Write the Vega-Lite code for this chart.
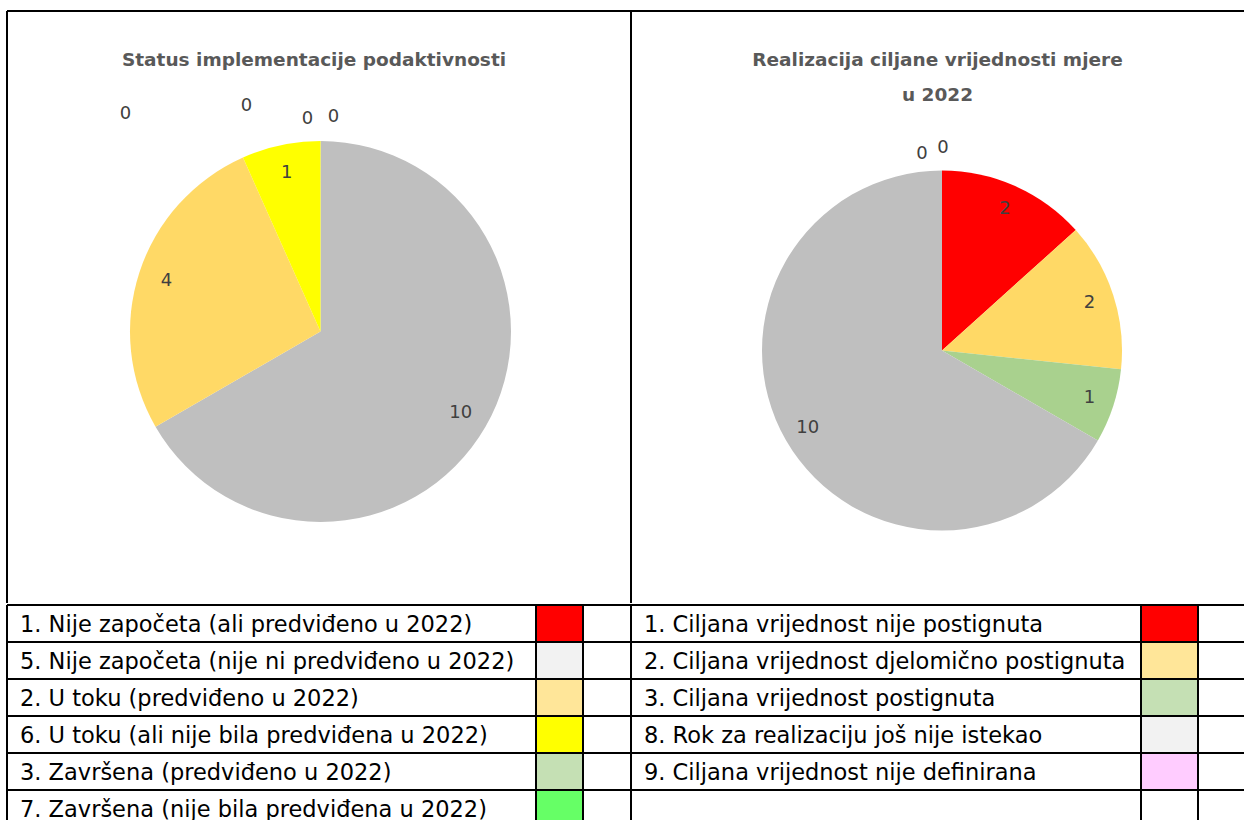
{
  "$schema": "https://vega.github.io/schema/vega-lite/v6.json",
  "padding": {"left": 6, "top": 10, "right": 0, "bottom": 0},
  "background": "white",
  "spacing": 0,
  "resolve": {"scale": {"color": "independent"}},
  "config": {
    "view": {"stroke": null},
    "font": "DejaVu Sans",
    "text": {"font": "DejaVu Sans"},
    "title": {"font": "DejaVu Sans"}
  },
  "datasets": {
    "leftPie": [
      {"kategorija": "4. Ostalo", "broj": 10, "red": 1},
      {"kategorija": "2. U toku (predviđeno u 2022)", "broj": 4, "red": 2},
      {"kategorija": "6. U toku (ali nije bila predviđena u 2022)", "broj": 1, "red": 3},
      {"kategorija": "1. Nije započeta (ali predviđeno u 2022)", "broj": 0, "red": 4},
      {"kategorija": "5. Nije započeta (nije ni predviđeno u 2022)", "broj": 0, "red": 5},
      {"kategorija": "3. Završena (predviđeno u 2022)", "broj": 0, "red": 6},
      {"kategorija": "7. Završena (nije bila predviđena u 2022)", "broj": 0, "red": 7}
    ],
    "rightPie": [
      {"kategorija": "1. Ciljana vrijednost nije postignuta", "broj": 2, "red": 1},
      {"kategorija": "2. Ciljana vrijednost djelomično postignuta", "broj": 2, "red": 2},
      {"kategorija": "3. Ciljana vrijednost postignuta", "broj": 1, "red": 3},
      {"kategorija": "8. Rok za realizaciju još nije istekao", "broj": 10, "red": 4},
      {"kategorija": "9. Ciljana vrijednost nije definirana", "broj": 0, "red": 5},
      {"kategorija": "Ostalo", "broj": 0, "red": 6}
    ],
    "leftLegend": [
      {"row": 1, "label": "1. Nije započeta (ali predviđeno u 2022)"},
      {"row": 2, "label": "5. Nije započeta (nije ni predviđeno u 2022)"},
      {"row": 3, "label": "2. U toku (predviđeno u 2022)"},
      {"row": 4, "label": "6. U toku (ali nije bila predviđena u 2022)"},
      {"row": 5, "label": "3. Završena (predviđeno u 2022)"},
      {"row": 6, "label": "7. Završena (nije bila predviđena u 2022)"}
    ],
    "rightLegend": [
      {"row": 1, "label": "1. Ciljana vrijednost nije postignuta"},
      {"row": 2, "label": "2. Ciljana vrijednost djelomično postignuta"},
      {"row": 3, "label": "3. Ciljana vrijednost postignuta"},
      {"row": 4, "label": "8. Rok za realizaciju još nije istekao"},
      {"row": 5, "label": "9. Ciljana vrijednost nije definirana"},
      {"row": 6, "label": ""}
    ]
  },
  "vconcat": [
    {
      "spacing": 0,
      "bounds": "flush",
      "resolve": {"scale": {"color": "independent"}},
      "hconcat": [
        {
          "width": 624,
          "height": 592,
          "title": {"text": "Status implementacije podaktivnosti", "offset": -59, "frame": "group", "anchor": "middle", "dx": -5, "fontSize": 18.5, "fontWeight": "bold", "color": "#595959"},
          "data": {"name": "leftPie"},
          "layer": [
            {"data": {"values": [{}]}, "mark": {"type": "rule", "color": "black", "strokeWidth": 2}, "encoding": {"y": {"datum": 1, "type": "quantitative", "scale": {"domain": [0, 1]}, "axis": null}}},
            {"data": {"values": [{}]}, "mark": {"type": "rule", "color": "black", "strokeWidth": 2}, "encoding": {"x": {"datum": 0, "type": "quantitative", "scale": {"domain": [0, 1]}, "axis": null}}},
            {
              "mark": {"type": "arc", "outerRadius": 190.5},
              "encoding": {
                "x": {"datum": 0.5024, "type": "quantitative", "scale": {"domain": [0, 1]}, "axis": null},
                "y": {"datum": 0.45861, "type": "quantitative", "scale": {"domain": [0, 1]}, "axis": null},
                "theta": {"field": "broj", "type": "quantitative", "stack": true},
                "order": {"field": "red", "type": "quantitative"},
                "color": {"field": "kategorija", "type": "nominal", "legend": null, "scale": {
                  "domain": ["4. Ostalo", "2. U toku (predviđeno u 2022)", "6. U toku (ali nije bila predviđena u 2022)", "1. Nije započeta (ali predviđeno u 2022)", "5. Nije započeta (nije ni predviđeno u 2022)", "3. Završena (predviđeno u 2022)", "7. Završena (nije bila predviđena u 2022)"],
                  "range": ["#BFBFBF", "#FFD966", "#FFFF00", "#FF0000", "#F2F2F2", "#C5E0B4", "#66FF66"]}}
              }
            },
            {
              "transform": [{"filter": "datum.broj > 0"}],
              "mark": {"type": "text", "radius": 162, "fontSize": 18, "color": "#404040"},
              "encoding": {
                "x": {"datum": 0.5024, "type": "quantitative", "axis": null},
                "y": {"datum": 0.45861, "type": "quantitative", "axis": null},
                "theta": {"field": "broj", "type": "quantitative", "stack": true},
                "order": {"field": "red", "type": "quantitative"},
                "text": {"field": "broj", "type": "quantitative"}
              }
            },
            {
              "transform": [{"filter": "datum.red == 4"}],
              "mark": {"type": "text", "radius": 215, "dx": -195, "dy": -3, "fontSize": 18, "color": "#404040"},
              "encoding": {"x": {"datum": 0.5024, "type": "quantitative", "axis": null}, "y": {"datum": 0.45861, "type": "quantitative", "axis": null}, "theta": {"field": "broj", "type": "quantitative", "stack": true}, "text": {"field": "broj", "type": "quantitative"}}
            },
            {
              "transform": [{"filter": "datum.red == 5"}],
              "mark": {"type": "text", "radius": 215, "dx": -74, "dy": -11, "fontSize": 18, "color": "#404040"},
              "encoding": {"x": {"datum": 0.5024, "type": "quantitative", "axis": null}, "y": {"datum": 0.45861, "type": "quantitative", "axis": null}, "theta": {"field": "broj", "type": "quantitative", "stack": true}, "text": {"field": "broj", "type": "quantitative"}}
            },
            {
              "transform": [{"filter": "datum.red == 6"}],
              "mark": {"type": "text", "radius": 215, "dx": -13, "dy": 2, "fontSize": 18, "color": "#404040"},
              "encoding": {"x": {"datum": 0.5024, "type": "quantitative", "axis": null}, "y": {"datum": 0.45861, "type": "quantitative", "axis": null}, "theta": {"field": "broj", "type": "quantitative", "stack": true}, "text": {"field": "broj", "type": "quantitative"}}
            },
            {
              "transform": [{"filter": "datum.red == 7"}],
              "mark": {"type": "text", "radius": 215, "dx": 13, "dy": 0, "fontSize": 18, "color": "#404040"},
              "encoding": {"x": {"datum": 0.5024, "type": "quantitative", "axis": null}, "y": {"datum": 0.45861, "type": "quantitative", "axis": null}, "theta": {"field": "broj", "type": "quantitative", "stack": true}, "text": {"field": "broj", "type": "quantitative"}}
            }
          ]
        },
        {
          "width": 613,
          "height": 592,
          "title": {"text": ["Realizacija ciljane vrijednosti mjere", "u 2022"], "lineHeight": 35, "offset": -94, "frame": "group", "anchor": "middle", "fontSize": 18.5, "fontWeight": "bold", "color": "#595959"},
          "data": {"name": "rightPie"},
          "layer": [
            {"data": {"values": [{}]}, "mark": {"type": "rule", "color": "black", "strokeWidth": 2}, "encoding": {"y": {"datum": 1, "type": "quantitative", "scale": {"domain": [0, 1]}, "axis": null}}},
            {"data": {"values": [{}]}, "mark": {"type": "rule", "color": "black", "strokeWidth": 2}, "encoding": {"x": {"datum": 0, "type": "quantitative", "scale": {"domain": [0, 1]}, "axis": null}}},
            {
              "mark": {"type": "arc", "outerRadius": 180},
              "encoding": {
                "x": {"datum": 0.50734, "type": "quantitative", "scale": {"domain": [0, 1]}, "axis": null},
                "y": {"datum": 0.42652, "type": "quantitative", "scale": {"domain": [0, 1]}, "axis": null},
                "theta": {"field": "broj", "type": "quantitative", "stack": true},
                "order": {"field": "red", "type": "quantitative"},
                "color": {"field": "kategorija", "type": "nominal", "legend": null, "scale": {
                  "domain": ["1. Ciljana vrijednost nije postignuta", "2. Ciljana vrijednost djelomično postignuta", "3. Ciljana vrijednost postignuta", "8. Rok za realizaciju još nije istekao", "9. Ciljana vrijednost nije definirana", "Ostalo"],
                  "range": ["#FF0000", "#FFD966", "#A9D18E", "#BFBFBF", "#FFCCFF", "#F2F2F2"]}}
              }
            },
            {
              "transform": [{"filter": "datum.broj > 0"}],
              "mark": {"type": "text", "radius": 155, "fontSize": 18, "color": "#404040"},
              "encoding": {
                "x": {"datum": 0.50734, "type": "quantitative", "axis": null},
                "y": {"datum": 0.42652, "type": "quantitative", "axis": null},
                "theta": {"field": "broj", "type": "quantitative", "stack": true},
                "order": {"field": "red", "type": "quantitative"},
                "text": {"field": "broj", "type": "quantitative"}
              }
            },
            {
              "transform": [{"filter": "datum.red == 5"}],
              "mark": {"type": "text", "radius": 200, "dx": -20, "dy": 3, "fontSize": 18, "color": "#404040"},
              "encoding": {"x": {"datum": 0.50734, "type": "quantitative", "axis": null}, "y": {"datum": 0.42652, "type": "quantitative", "axis": null}, "theta": {"field": "broj", "type": "quantitative", "stack": true}, "text": {"field": "broj", "type": "quantitative"}}
            },
            {
              "transform": [{"filter": "datum.red == 6"}],
              "mark": {"type": "text", "radius": 200, "dx": 1, "dy": -3, "fontSize": 18, "color": "#404040"},
              "encoding": {"x": {"datum": 0.50734, "type": "quantitative", "axis": null}, "y": {"datum": 0.42652, "type": "quantitative", "axis": null}, "theta": {"field": "broj", "type": "quantitative", "stack": true}, "text": {"field": "broj", "type": "quantitative"}}
            }
          ]
        }
      ]
    },
    {
      "spacing": 0,
      "bounds": "flush",
      "resolve": {"scale": {"color": "independent"}},
      "hconcat": [
        {
          "width": 529, "height": 216,
          "data": {"name": "leftLegend"},
          "layer": [
            {"mark": {"type": "text", "align": "left", "baseline": "middle", "fontSize": 22.5, "dx": 13, "dy": 1, "color": "black"},
             "encoding": {"y": {"field": "row", "type": "ordinal", "scale": {"type": "band", "range": [0, 222], "paddingInner": 0, "paddingOuter": 0}, "axis": null},
                          "x": {"datum": 0, "type": "quantitative", "scale": {"domain": [0, 1]}, "axis": null},
                          "text": {"field": "label"}}},
            {"mark": {"type": "rule", "color": "black", "strokeWidth": 2},
             "encoding": {"y": {"field": "row", "type": "ordinal", "bandPosition": 0, "scale": {"type": "band", "range": [0, 222], "paddingInner": 0, "paddingOuter": 0}, "axis": null}}},
            {"data": {"values": [{}]}, "mark": {"type": "rule", "color": "black", "strokeWidth": 2},
             "encoding": {"x": {"datum": 0, "type": "quantitative", "scale": {"domain": [0, 1]}, "axis": null}}}
          ]
        },
        {
          "width": 47, "height": 216,
          "data": {"name": "leftLegend"},
          "layer": [
            {"mark": {"type": "rect", "clip": true},
             "encoding": {"y": {"field": "row", "type": "ordinal", "scale": {"type": "band", "range": [0, 222], "paddingInner": 0, "paddingOuter": 0}, "axis": null},
                          "color": {"field": "label", "type": "nominal", "legend": null, "scale": {
                            "domain": ["1. Nije započeta (ali predviđeno u 2022)", "5. Nije započeta (nije ni predviđeno u 2022)", "2. U toku (predviđeno u 2022)", "6. U toku (ali nije bila predviđena u 2022)", "3. Završena (predviđeno u 2022)", "7. Završena (nije bila predviđena u 2022)"],
                            "range": ["#FF0000", "#F2F2F2", "#FFE699", "#FFFF00", "#C5E0B4", "#66FF66"]}}}},
            {"mark": {"type": "rule", "color": "black", "strokeWidth": 2},
             "encoding": {"y": {"field": "row", "type": "ordinal", "bandPosition": 0, "scale": {"type": "band", "range": [0, 222], "paddingInner": 0, "paddingOuter": 0}, "axis": null}}},
            {"data": {"values": [{}]}, "mark": {"type": "rule", "color": "black", "strokeWidth": 2},
             "encoding": {"x": {"datum": 0, "type": "quantitative", "scale": {"domain": [0, 1]}, "axis": null}}}
          ]
        },
        {
          "width": 48, "height": 216,
          "data": {"name": "leftLegend"},
          "layer": [
            {"mark": {"type": "rule", "color": "black", "strokeWidth": 2},
             "encoding": {"y": {"field": "row", "type": "ordinal", "bandPosition": 0, "scale": {"type": "band", "range": [0, 222], "paddingInner": 0, "paddingOuter": 0}, "axis": null}}},
            {"data": {"values": [{}]}, "mark": {"type": "rule", "color": "black", "strokeWidth": 2},
             "encoding": {"x": {"datum": 0, "type": "quantitative", "scale": {"domain": [0, 1]}, "axis": null}}}
          ]
        },
        {
          "width": 510, "height": 216,
          "data": {"name": "rightLegend"},
          "layer": [
            {"mark": {"type": "text", "align": "left", "baseline": "middle", "fontSize": 22.5, "dx": 13, "dy": 1, "color": "black"},
             "encoding": {"y": {"field": "row", "type": "ordinal", "scale": {"type": "band", "range": [0, 222], "paddingInner": 0, "paddingOuter": 0}, "axis": null},
                          "x": {"datum": 0, "type": "quantitative", "scale": {"domain": [0, 1]}, "axis": null},
                          "text": {"field": "label"}}},
            {"mark": {"type": "rule", "color": "black", "strokeWidth": 2},
             "encoding": {"y": {"field": "row", "type": "ordinal", "bandPosition": 0, "scale": {"type": "band", "range": [0, 222], "paddingInner": 0, "paddingOuter": 0}, "axis": null}}},
            {"data": {"values": [{}]}, "mark": {"type": "rule", "color": "black", "strokeWidth": 2},
             "encoding": {"x": {"datum": 0, "type": "quantitative", "scale": {"domain": [0, 1]}, "axis": null}}}
          ]
        },
        {
          "width": 57, "height": 216,
          "data": {"name": "rightLegend"},
          "layer": [
            {"transform": [{"filter": "datum.label != ''"}],
             "mark": {"type": "rect", "clip": true},
             "encoding": {"y": {"field": "row", "type": "ordinal", "scale": {"type": "band", "range": [0, 222], "paddingInner": 0, "paddingOuter": 0}, "axis": null},
                          "color": {"field": "label", "type": "nominal", "legend": null, "scale": {
                            "domain": ["1. Ciljana vrijednost nije postignuta", "2. Ciljana vrijednost djelomično postignuta", "3. Ciljana vrijednost postignuta", "8. Rok za realizaciju još nije istekao", "9. Ciljana vrijednost nije definirana"],
                            "range": ["#FF0000", "#FFE699", "#C5E0B4", "#F2F2F2", "#FFCCFF"]}}}},
            {"mark": {"type": "rule", "color": "black", "strokeWidth": 2},
             "encoding": {"y": {"field": "row", "type": "ordinal", "bandPosition": 0, "scale": {"type": "band", "range": [0, 222], "paddingInner": 0, "paddingOuter": 0}, "axis": null}}},
            {"data": {"values": [{}]}, "mark": {"type": "rule", "color": "black", "strokeWidth": 2},
             "encoding": {"x": {"datum": 0, "type": "quantitative", "scale": {"domain": [0, 1]}, "axis": null}}}
          ]
        },
        {
          "width": 46, "height": 216,
          "data": {"name": "rightLegend"},
          "layer": [
            {"mark": {"type": "rule", "color": "black", "strokeWidth": 2},
             "encoding": {"y": {"field": "row", "type": "ordinal", "bandPosition": 0, "scale": {"type": "band", "range": [0, 222], "paddingInner": 0, "paddingOuter": 0}, "axis": null}}},
            {"data": {"values": [{}]}, "mark": {"type": "rule", "color": "black", "strokeWidth": 2},
             "encoding": {"x": {"datum": 0, "type": "quantitative", "scale": {"domain": [0, 1]}, "axis": null}}}
          ]
        }
      ]
    }
  ]
}
